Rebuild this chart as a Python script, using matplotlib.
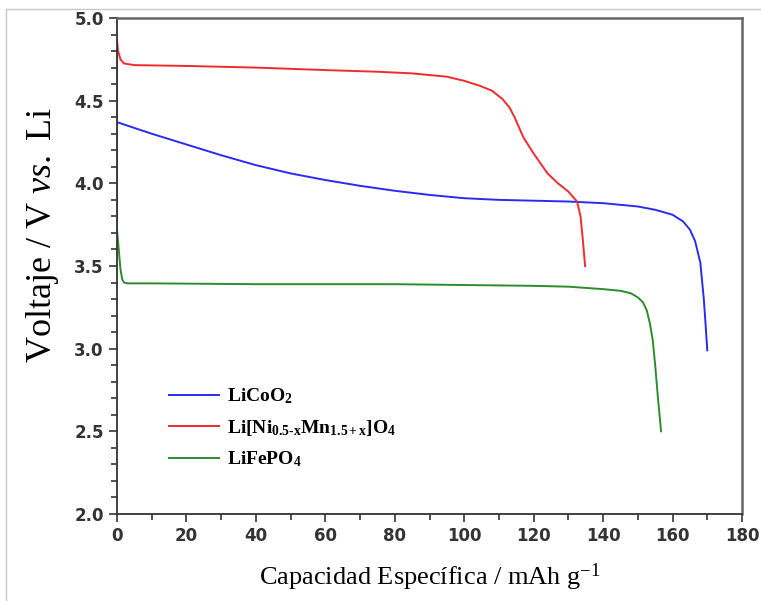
import matplotlib.pyplot as plt
from matplotlib.lines import Line2D
from matplotlib.ticker import MultipleLocator

plt.rcParams['mathtext.fontset'] = 'custom'
plt.rcParams['mathtext.it'] = 'Liberation Serif:italic'
plt.rcParams['mathtext.rm'] = 'Liberation Serif'
plt.rcParams['mathtext.bf'] = 'Liberation Serif:bold'

# capacidad (mAh/g) y voltaje (V) de cada material
cap_lco = [0, 10, 20, 30, 40, 50, 60, 70, 80, 90, 100, 110, 120, 130, 140, 150,
           155, 160, 163, 165, 166.5, 168, 169, 169.5, 170]
v_lco = [4.37, 4.30, 4.235, 4.17, 4.11, 4.06, 4.02, 3.985, 3.955, 3.93, 3.91, 3.90,
         3.895, 3.89, 3.88, 3.86, 3.84, 3.81, 3.77, 3.72, 3.65, 3.52, 3.30, 3.15, 2.99]

cap_lnmo = [0, 0, 0.3, 1, 2, 5, 20, 40, 60, 75, 85, 95, 100, 104.5, 108, 111,
            113, 114.5, 117, 120, 124, 127, 130, 132.5, 133.5, 134.2, 134.8]
v_lnmo = [3.68, 4.87, 4.80, 4.75, 4.725, 4.715, 4.71, 4.70, 4.685, 4.675, 4.665,
          4.645, 4.62, 4.59, 4.56, 4.51, 4.46, 4.40, 4.28, 4.18, 4.06, 4.00, 3.95,
          3.89, 3.80, 3.65, 3.50]

cap_lfp = [0, 0.5, 1, 1.5, 2, 3, 10, 40, 80, 100, 120, 130, 140, 145, 148, 150,
           151.5, 152.6, 153.5, 154.3, 155, 155.8, 156.7]
v_lfp = [3.72, 3.60, 3.48, 3.42, 3.40, 3.395, 3.395, 3.39, 3.39, 3.385, 3.38, 3.375,
         3.36, 3.35, 3.335, 3.31, 3.28, 3.23, 3.15, 3.05, 2.90, 2.70, 2.50]

labels = ['LiCoO$_\\mathbf{2}$',
          'Li[Ni$_\\mathbf{0.5\\text{-}x}$Mn$_\\mathbf{1.5+x}$]O$_\\mathbf{4}$',
          'LiFePO$_\\mathbf{4}$']

fig = plt.figure(figsize=(7.61, 6.01), dpi=100)
ax = fig.add_axes([117/761, 1-514/601, 625/761, 496/601])

ax.plot(cap_lco, v_lco, color='#2b2bf0', lw=1.4, label=labels[0])
ax.plot(cap_lnmo, v_lnmo, color='#f02b2b', lw=1.4, label=labels[1])
ax.plot(cap_lfp, v_lfp, color='#2e8b2e', lw=1.4, label=labels[2])

ax.set_xlim(0, 180)
ax.set_ylim(2.0, 5.0)
ax.xaxis.set_major_locator(MultipleLocator(20))
ax.xaxis.set_minor_locator(MultipleLocator(10))
ax.yaxis.set_major_locator(MultipleLocator(0.5))
ax.yaxis.set_minor_locator(MultipleLocator(0.1))
ax.tick_params(which='both', direction='out', top=False, right=False, width=1.2, color='#333333')
ax.tick_params(which='major', length=6)
ax.tick_params(which='minor', length=4)
for lab in ax.get_xticklabels() + ax.get_yticklabels():
    lab.set_family(['Liberation Sans Narrow', 'DejaVu Sans'])
    lab.set_fontweight('bold')
    lab.set_fontsize(12)
    lab.set_color('#333333')
for s in ['left', 'bottom']:
    ax.spines[s].set_color('#333333')
    ax.spines[s].set_linewidth(1.3)
for s in ['top', 'right']:
    ax.spines[s].set_color('#666666')
    ax.spines[s].set_linewidth(1.8)

ax.set_xlabel('Capacidad Específica / mAh g$^{-1}$', family='Liberation Serif',
              fontsize=19, labelpad=12)
ax.set_ylabel('Voltaje / V $\\mathit{vs.}$ Li', family='Liberation Serif', fontsize=26)
ax.yaxis.set_label_coords(-0.09, 0.5625)

leg = ax.legend(loc='lower left', bbox_to_anchor=(0.055, 0.055), frameon=False,
                prop={'family': 'Liberation Serif', 'weight': 'bold', 'size': 14},
                handlelength=2.6, handletextpad=0.4, labelspacing=0.6)

# marco gris alrededor de la figura
fig.add_artist(Line2D([6/761, 6/761], [0, 1-9/601], color='#c8c8c8', lw=1))
fig.add_artist(Line2D([6/761, 1], [1-9/601, 1-9/601], color='#c8c8c8', lw=1))

fig.savefig('out.png', dpi=100)
